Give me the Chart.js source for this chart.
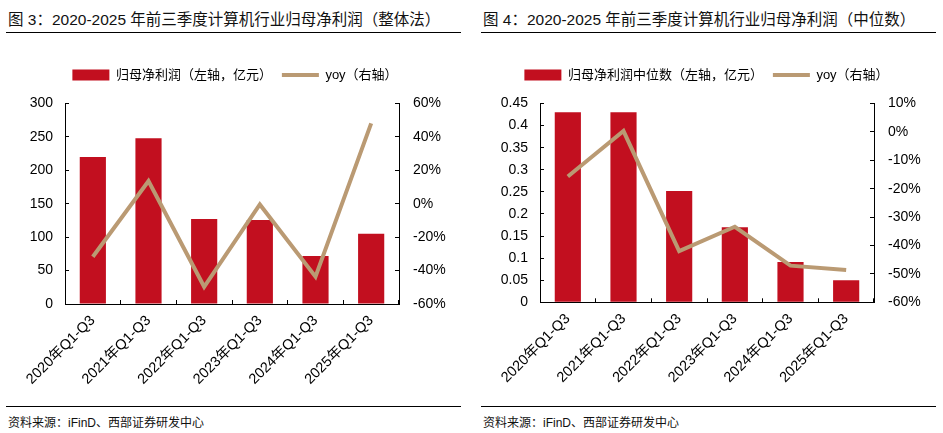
<!DOCTYPE html>
<html>
<head>
<meta charset="utf-8">
<script src="https://cdn.jsdelivr.net/npm/chart.js@4"></script>
<style>
  body { margin: 0; background: #fff; font-family: 'Liberation Sans', 'Noto Sans CJK SC', sans-serif; }
  #page { position: relative; width: 943px; height: 433px; overflow: hidden; }
  .title { position: absolute; top: 7px; font-size: 15.5px; color: #111; white-space: nowrap; }
  .rule { position: absolute; height: 0; border-top: 1.5px solid #000; }
  .foot { position: absolute; top: 413px; font-size: 12px; color: #111; white-space: nowrap; }
  canvas { position: absolute; top: 40px; }
</style>
</head>
<body>
<div id="page">
  <div class="title" style="left:8px">图 3：2020-2025 年前三季度计算机行业归母净利润（整体法）</div>
  <div class="rule" style="left:6px; width:455px; top:32px"></div>
  <div class="title" style="left:483px">图 4：2020-2025 年前三季度计算机行业归母净利润（中位数）</div>
  <div class="rule" style="left:481px; width:455px; top:32px"></div>

  <canvas id="left" width="470" height="360" style="left:0"></canvas>
  <canvas id="right" width="473" height="360" style="left:470px"></canvas>

  <div class="rule" style="left:6px; width:455px; top:406px; border-top-width:1px"></div>
  <div class="foot" style="left:8px">资料来源：iFinD、西部证券研发中心</div>
  <div class="rule" style="left:481px; width:455px; top:406px; border-top-width:1px"></div>
  <div class="foot" style="left:483px">资料来源：iFinD、西部证券研发中心</div>
</div>
<script>
// data
var categories = ['2020年Q1-Q3', '2021年Q1-Q3', '2022年Q1-Q3', '2023年Q1-Q3', '2024年Q1-Q3', '2025年Q1-Q3'];
var profitTotal = [220, 248, 127, 125.5, 72, 105];
var yoyTotal = [-31.7, 13.6, -49.7, -0.4, -43.7, 48.1];
var profitMedian = [0.43, 0.43, 0.252, 0.17, 0.091, 0.05];
var yoyMedian = [-15.7, 0.3, -42, -33.4, -47.1, -48.6];

var BAR_RED = '#c20f1f';
var LINE_TAN = '#ba9a73';
var FONT = "'Liberation Sans', 'Noto Sans CJK SC', sans-serif";

Chart.defaults.color = '#000';
Chart.defaults.font.family = FONT;

function makeChart(id, barLabel, bars, yoy, yAxis, y1Axis, box) {
    var legendGap = {
        id: 'legendGap',
        beforeInit: function (chart) {
            var fit = chart.legend.fit;
            chart.legend.fit = function () {
                fit.bind(chart.legend)();
                this.height += box.gap;
            };
        }
    };
    var axisBase = {
        border: { color: '#000', width: 1 },
        grid: { drawOnChartArea: false, tickLength: -4, color: '#000' }
    };
    return new Chart(document.getElementById(id), {
        data: {
            labels: categories,
            datasets: [{
                type: 'line',
                label: 'yoy（右轴）',
                data: yoy,
                yAxisID: 'y1',
                borderColor: LINE_TAN,
                backgroundColor: LINE_TAN,
                borderWidth: 4,
                pointRadius: 0,
                pointStyle: 'line',
                order: 0
            }, {
                type: 'bar',
                label: barLabel,
                data: bars,
                yAxisID: 'y',
                backgroundColor: BAR_RED,
                barPercentage: 0.47,
                categoryPercentage: 1,
                pointStyle: 'rect',
                order: 1
            }]
        },
        options: {
            responsive: false,
            animation: false,
            layout: { padding: { top: box.top, left: 0, right: 0, bottom: 0 } },
            plugins: {
                legend: {
                    reverse: true,
                    labels: {
                        usePointStyle: true,
                        pointStyleWidth: 37,
                        boxHeight: 11,
                        padding: 10,
                        font: { size: 13, family: FONT }
                    }
                },
                tooltip: { enabled: false }
            },
            scales: {
                x: Object.assign({}, axisBase, {
                    ticks: { font: { size: 14.5 }, minRotation: 45, maxRotation: 45, padding: 12 },
                    afterFit: function (s) { s.height = box.xh; }
                }),
                y: Object.assign({}, axisBase, {
                    position: 'left',
                    min: yAxis.min, max: yAxis.max,
                    ticks: { stepSize: yAxis.step, padding: 16, font: { size: 14 }, callback: yAxis.fmt },
                    afterFit: function (s) { s.width = box.yw; }
                }),
                y1: Object.assign({}, axisBase, {
                    position: 'right',
                    min: y1Axis.min, max: y1Axis.max,
                    ticks: { stepSize: y1Axis.step, padding: 18, font: { size: 14 },
                        callback: function (v) { return Math.round(v) + '%'; } },
                    afterFit: function (s) { s.width = box.y1w; }
                })
            }
        },
        plugins: [legendGap]
    });
}

makeChart('left', '归母净利润（左轴，亿元）', profitTotal, yoyTotal,
    { min: 0, max: 300, step: 50, fmt: function (v) { return v; } },
    { min: -60, max: 60, step: 20 },
    { top: 18.5, gap: 12, xh: 96, yw: 65, y1w: 71 });

makeChart('right', '归母净利润中位数（左轴，亿元）', profitMedian, yoyMedian,
    { min: 0, max: 0.45, step: 0.05, fmt: function (v) { return +v.toFixed(2); } },
    { min: -60, max: 10, step: 10 },
    { top: 18.5, gap: 12, xh: 97.7, yw: 70, y1w: 69 });
</script>
</body>
</html>
